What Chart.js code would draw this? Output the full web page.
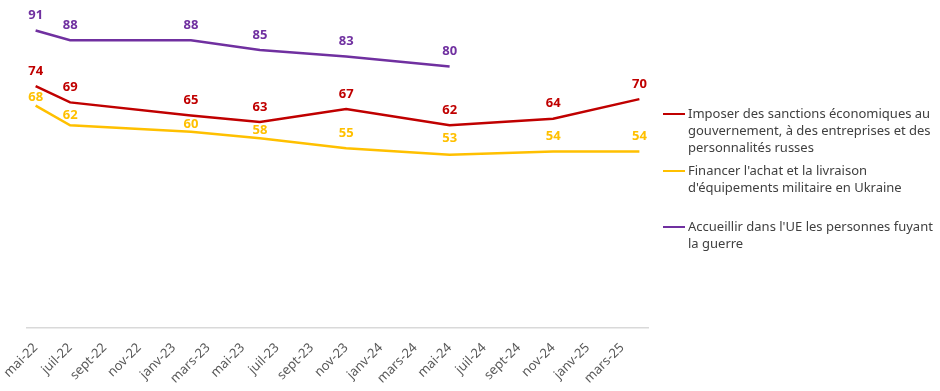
<!DOCTYPE html>
<html><head><meta charset="utf-8">
<script src="https://cdn.jsdelivr.net/npm/chart.js@4.4.1/dist/chart.umd.min.js"></script>
<style>
html,body{margin:0;padding:0;background:#fff;}
#wrap{position:relative;width:940px;height:391px;overflow:hidden;}
#legend{position:absolute;left:663px;top:105px;width:277px;font-family:"Noto Sans",sans-serif;font-size:13px;color:#404040;}
.item{position:relative;height:56.5px;}
.sw{position:absolute;left:0;top:8px;width:22px;height:2px;}
.txt{position:absolute;left:25px;top:0;line-height:17px;white-space:nowrap;}
</style></head>
<body>
<div id="wrap"><canvas id="c" width="940" height="391"></canvas><div id="legend"></div></div>
<script>
// Monthly categories (mai-22 .. avr-25)
const months = ["mai-22","juin-22","juil-22","août-22","sept-22","oct-22","nov-22","déc-22",
  "janv-23","févr-23","mars-23","avr-23","mai-23","juin-23","juil-23","août-23","sept-23","oct-23","nov-23","déc-23",
  "janv-24","févr-24","mars-24","avr-24","mai-24","juin-24","juil-24","août-24","sept-24","oct-24","nov-24","déc-24",
  "janv-25","févr-25","mars-25","avr-25"];
// survey waves (month in 'months')
const waveMonths = ["mai-22","juil-22","févr-23","juin-23","nov-23","mai-24","nov-24","avr-25"];
const sanctions  = [74, 69, 65, 63, 67, 62, 64, 70];
const equipement = [68, 62, 60, 58, 55, 53, 54, 54];
const accueil    = [91, 88, 88, 85, 83, 80, null, null];
const seriesNames = [
  ["Imposer des sanctions économiques au","gouvernement, à des entreprises et des","personnalités russes"],
  ["Financer l'achat et la livraison","d'équipements militaire en Ukraine"],
  ["Accueillir dans l'UE les personnes fuyant","la guerre"]
];
const colors = ["#C00000","#FFC000","#7030A0"];
// label offsets above the point (px), per wave, style only
const labelOffsets = [
  [15,15,15,15,15,15,15,15],
  [8,10,7.5,8,15,16,15,15],
  [15,15,15,15,15,15,15,15]
];

function spread(values){
  const arr = months.map(()=>null);
  waveMonths.forEach((m,i)=>{ arr[months.indexOf(m)] = values[i]; });
  return arr;
}
const seriesValues = [sanctions, equipement, accueil];

const labelPlugin = {
  id:'valueLabels',
  afterDatasetsDraw(chart){
    const ctx = chart.ctx;
    ctx.save();
    ctx.font = 'bold 13px "Noto Sans", sans-serif';
    ctx.textAlign = 'center';
    ctx.textBaseline = 'middle';
    chart.data.datasets.forEach((ds,di)=>{
      const meta = chart.getDatasetMeta(di);
      let w = 0;
      ds.data.forEach((v,i)=>{
        if (v === null) return;
        const p = meta.data[i];
        ctx.fillStyle = ds.borderColor;
        ctx.fillText(String(v), p.x, p.y - labelOffsets[di][w]);
        w++;
      });
    });
    ctx.restore();
  }
};

const chart = new Chart(document.getElementById('c'), {
  type:'line',
  data:{
    labels: months,
    datasets: seriesValues.map((vals,i)=>({
      label: seriesNames[i].join(' '),
      data: spread(vals),
      borderColor: colors[i],
      backgroundColor: colors[i],
      borderWidth: 2.5,
      pointRadius: 0,
      pointHoverRadius: 0,
      tension: 0,
      spanGaps: true
    }))
  },
  options:{
    responsive:false,
    animation:false,
    layout:{padding:{left:27,right:292,top:1,bottom:0}},
    plugins:{legend:{display:false},tooltip:{enabled:false}},
    scales:{
      y:{display:false,min:0,max:100},
      x:{
        offset:true,
        afterFit(scale){ scale.height = 63; scale.paddingLeft = 0; scale.paddingRight = 0; },
        grid:{display:false,drawTicks:false},
        border:{display:true,color:'#d9d9d9',width:1.5},
        ticks:{
          autoSkip:false,maxRotation:45,minRotation:45,padding:12,
          color:'#595959',font:{family:'"Noto Sans", sans-serif',size:13},
          callback:function(v,i){ return i % 2 === 0 ? months[i] : ''; }
        }
      }
    }
  },
  plugins:[labelPlugin]
});

const lg = document.getElementById('legend');
seriesNames.forEach((lines,i)=>{
  const it = document.createElement('div'); it.className='item';
  const sw = document.createElement('div'); sw.className='sw'; sw.style.background = colors[i];
  const tx = document.createElement('div'); tx.className='txt'; tx.innerHTML = lines.join('<br>');
  it.appendChild(sw); it.appendChild(tx); lg.appendChild(it);
});
</script>
</body></html>
